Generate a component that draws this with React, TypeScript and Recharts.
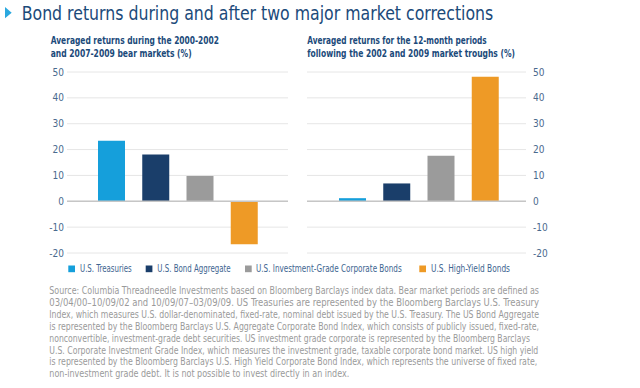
import React from "react";
import { BarChart, Bar, XAxis, YAxis, CartesianGrid, ReferenceLine, Cell } from "recharts";

const categories = ["U.S. Treasuries", "U.S. Bond Aggregate", "U.S. Investment-Grade Corporate Bonds", "U.S. High-Yield Bonds"];
const bearValues = [23.4, 18.1, 9.8, -16.6];
const recoveryValues = [1.2, 6.9, 17.6, 48.2];
const colors = ["#159fdb", "#1a3e6a", "#9b9b9b", "#ee9a26"];
const yTicks = [-20, -10, 0, 10, 20, 30, 40, 50];

const title = "Bond returns during and after two major market corrections";
const leftSubtitle = ["Averaged returns during the 2000-2002", "and 2007-2009 bear markets (%)"];
const rightSubtitle = ["Averaged returns for the 12-month periods", "following the 2002 and 2009 market troughs (%)"];
const sourceLines = [
  "Source: Columbia Threadneedle Investments based on Bloomberg Barclays index data. Bear market periods are defined as",
  "03/04/00\u201310/09/02 and 10/09/07\u201303/09/09. US Treasuries are represented by the Bloomberg Barclays U.S. Treasury",
  "Index, which measures U.S. dollar-denominated, fixed-rate, nominal debt issued by the U.S. Treasury. The US Bond Aggregate",
  "is represented by the Bloomberg Barclays U.S. Aggregate Corporate Bond Index, which consists of publicly issued, fixed-rate,",
  "nonconvertible, investment-grade debt securities. US investment grade corporate is represented by the Bloomberg Barclays",
  "U.S. Corporate Investment Grade Index, which measures the investment grade, taxable corporate bond market. US high yield",
  "is represented by the Bloomberg Barclays U.S. High Yield Corporate Bond Index, which represents the universe of fixed rate,",
  "non-investment grade debt. It is not possible to invest directly in an index.",
];

const leftData = categories.map((c, i) => ({ name: c, value: bearValues[i] }));
const rightData = categories.map((c, i) => ({ name: c, value: recoveryValues[i] }));

const FONT = "'Liberation Sans Narrow', 'DejaVu Sans Condensed', 'Roboto Condensed', 'Liberation Sans', sans-serif";
const tickStyle = { fontSize: 10, fill: "#4a6a8e", fontFamily: FONT };

const sourceLengths = [489.7, 489.7, 489.7, 489.7, 480.7, 489, 488, 300];
const legendPos = [
  { sx: 68.3, tx: 80, len: 51.7 },
  { sx: 145.7, tx: 157.3, len: 73.4 },
  { sx: 245, tx: 256, len: 145.7 },
  { sx: 419.3, tx: 431, len: 79 },
];

export default function App() {
  return (
    <div style={{ position: "absolute", left: 0, top: 0, width: 640, height: 388, background: "#fff", fontFamily: FONT }}>
      <div style={{ position: "absolute", left: 0, top: 0 }}>
        <BarChart width={300} height={270} data={leftData} margin={{ top: 72, right: 12, bottom: 17, left: 0 }}>
          <CartesianGrid vertical={false} stroke="#e6e6e6" strokeWidth={1} />
          <XAxis dataKey="name" hide padding={{ left: 22, right: 22 }} />
          <YAxis
            domain={[-20, 50]}
            ticks={yTicks}
            width={67}
            axisLine={false}
            tickLine={false}
            tickSize={1}
            tickMargin={2}
            tick={tickStyle}
            interval={0}
          />
          <ReferenceLine y={0} stroke="#c6c6c6" strokeWidth={1.5} />
          <Bar dataKey="value" barSize={27} isAnimationActive={false}>
            {leftData.map((d, i) => (
              <Cell key={d.name} fill={colors[i]} />
            ))}
          </Bar>
        </BarChart>
      </div>
      <div style={{ position: "absolute", left: 300, top: 0 }}>
        <BarChart width={340} height={270} data={rightData} margin={{ top: 72, right: 74, bottom: 17, left: 7 }}>
          <CartesianGrid vertical={false} stroke="#e6e6e6" strokeWidth={1} />
          <XAxis dataKey="name" hide padding={{ left: 23, right: 19 }} />
          <YAxis
            orientation="right"
            domain={[-20, 50]}
            ticks={yTicks}
            width={40}
            axisLine={false}
            tickLine={false}
            tickSize={5}
            tickMargin={2}
            tick={tickStyle}
            interval={0}
          />
          <ReferenceLine y={0} stroke="#c6c6c6" strokeWidth={1.5} />
          <Bar dataKey="value" barSize={27} isAnimationActive={false}>
            {rightData.map((d, i) => (
              <Cell key={d.name} fill={colors[i]} />
            ))}
          </Bar>
        </BarChart>
      </div>
      <svg width={640} height={388} style={{ position: "absolute", left: 0, top: 0, pointerEvents: "none" }} fontFamily={FONT}>
        <polygon points="5,7 11.7,12.7 5,18.3" fill="#2aa8df" />
        <text x={21.7} y={20} fontSize={20} fill="#1b4a7a" textLength={471.6} lengthAdjust="spacingAndGlyphs">
          {title}
        </text>
        <text x={50.7} y={44.3} fontSize={10.5} fontWeight="bold" fill="#1b4a7a" textLength={168.3} lengthAdjust="spacingAndGlyphs">
          {leftSubtitle[0]}
        </text>
        <text x={50.7} y={57} fontSize={10.5} fontWeight="bold" fill="#1b4a7a" textLength={141} lengthAdjust="spacingAndGlyphs">
          {leftSubtitle[1]}
        </text>
        <text x={307.3} y={44.3} fontSize={10.5} fontWeight="bold" fill="#1b4a7a" textLength={179.4} lengthAdjust="spacingAndGlyphs">
          {rightSubtitle[0]}
        </text>
        <text x={307.3} y={57} fontSize={10.5} fontWeight="bold" fill="#1b4a7a" textLength={207.7} lengthAdjust="spacingAndGlyphs">
          {rightSubtitle[1]}
        </text>
        {categories.map((c, i) => (
          <g key={c}>
            <rect x={legendPos[i].sx} y={265.5} width={6.7} height={6.7} fill={colors[i]} />
            <text x={legendPos[i].tx} y={272} fontSize={10} fill="#3e6590" textLength={legendPos[i].len} lengthAdjust="spacingAndGlyphs">
              {c}
            </text>
          </g>
        ))}
        {sourceLines.map((line, i) => (
          <text
            key={i}
            x={49.3}
            y={294.2 + i * 11.86}
            fontSize={10}
            fill="#9a9a9a"
            textLength={sourceLengths[i]}
            lengthAdjust="spacingAndGlyphs"
          >
            {line}
          </text>
        ))}
      </svg>
    </div>
  );
}
